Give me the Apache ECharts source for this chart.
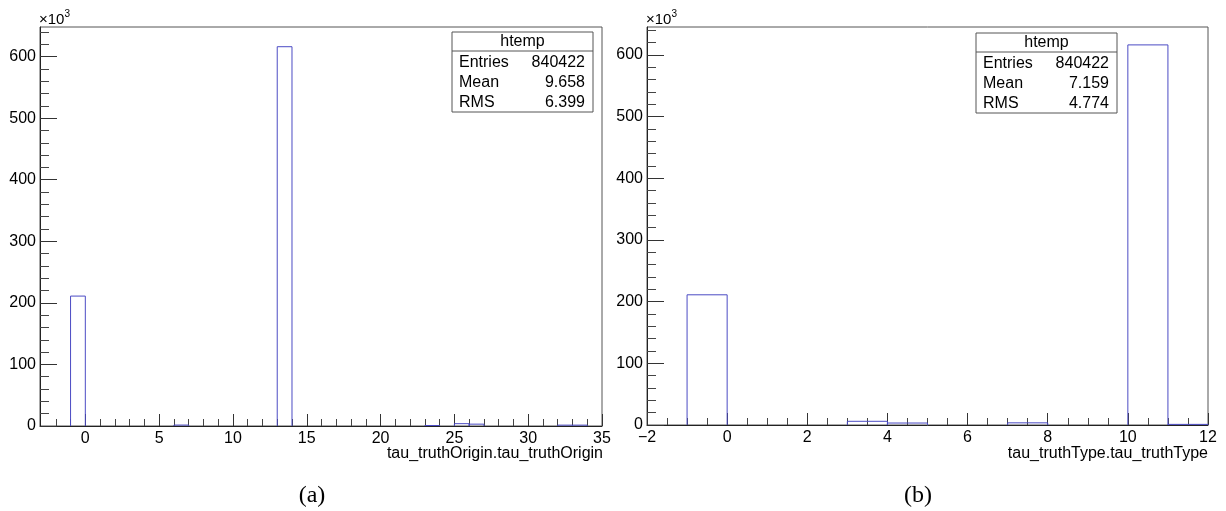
<!DOCTYPE html>
<html>
<head>
<meta charset="utf-8">
<script src="https://cdn.jsdelivr.net/npm/echarts@6/dist/echarts.min.js"></script>
<style>
  html, body { margin: 0; padding: 0; background: #fff; }
  #chart { width: 1226px; height: 511px; }
</style>
</head>
<body>
<div id="chart"></div>
<script>
// ---- histogram (a): tau_truthOrigin, bin width 1, counts in thousands ----
const originBinLow = [-1, 6, 13, 23, 25, 26, 32, 33];
const originCounts = [211, 1.5, 616, 0.8, 3.8, 3.0, 1.4, 1.4];
const originXTicks = [0, 5, 10, 15, 20, 25, 30, 35];

// ---- histogram (b): tau_truthType, bin width 1, counts in thousands ----
const typeBinLow = [-1, 3, 4, 7, 10, 11];
const typeCounts = [211, 6.0, 3.2, 3.5, 616, 1.0];
const typeXTicks = [-2, 0, 2, 4, 6, 8, 10, 12];

const yTicks = [0, 100, 200, 300, 400, 500, 600];

// statistics boxes
const statsA = { title: 'htemp', entries: '840422', mean: '9.658', rms: '6.399' };
const statsB = { title: 'htemp', entries: '840422', mean: '7.159', rms: '4.774' };

const FONT = '"Liberation Sans", Arial, sans-serif';
const SERIF = '"Liberation Serif", "Times New Roman", serif';
const LINE = '#4b4bc4';

function range(a, b, step) {
  const out = [];
  for (let v = a; v <= b + 1e-9; v += step) out.push(Math.round(v * 100) / 100);
  return out;
}
function minorOf(all, major) {
  return all.filter(v => !major.some(m => Math.abs(m - v) < 1e-9));
}
const signed = v => String(v).replace('-', '\u2212');

const chart = echarts.init(document.getElementById('chart'), null, { renderer: 'canvas' });

const grids = [
  { left: 40, right: 624, top: 27, bottom: 85 },
  { left: 647, right: 18, top: 27, bottom: 86 }
];

function xMajor(gridIndex, min, max, ticks) {
  return {
    type: 'value', gridIndex, min, max, position: 'bottom',
    axisLine: { show: true, onZero: false, lineStyle: { color: '#222', width: 1 } },
    axisTick: { show: true, inside: true, length: 12, customValues: ticks, lineStyle: { color: '#333' } },
    axisLabel: { show: true, customValues: ticks, formatter: signed, color: '#000', fontFamily: FONT, fontSize: 16, margin: 5 },
    splitLine: { show: false }
  };
}
function xMinor(gridIndex, min, max, ticks) {
  return {
    type: 'value', gridIndex, min, max, position: 'bottom',
    axisLine: { show: false, onZero: false },
    axisTick: { show: true, inside: true, length: 7, customValues: ticks, lineStyle: { color: '#444' } },
    axisLabel: { show: false },
    splitLine: { show: false }
  };
}
function yMajor(gridIndex, max) {
  return {
    type: 'value', gridIndex, min: 0, max, position: 'left',
    axisLine: { show: true, onZero: false, lineStyle: { color: '#222', width: 1 } },
    axisTick: { show: true, inside: true, length: 17, customValues: yTicks, lineStyle: { color: '#333' } },
    axisLabel: { show: true, customValues: yTicks, color: '#000', fontFamily: FONT, fontSize: 16, margin: 4 },
    splitLine: { show: false }
  };
}
function yMinor(gridIndex, max) {
  return {
    type: 'value', gridIndex, min: 0, max, position: 'left',
    axisLine: { show: false, onZero: false },
    axisTick: { show: true, inside: true, length: 9, customValues: minorOf(range(0, 640, 20), yTicks), lineStyle: { color: '#444' } },
    axisLabel: { show: false },
    splitLine: { show: false }
  };
}

function histSeries(xIdx, yIdx, lows, counts) {
  return {
    type: 'custom',
    xAxisIndex: xIdx, yAxisIndex: yIdx,
    data: lows.map((lo, i) => [lo, lo + 1, counts[i]]),
    renderItem: function (params, api) {
      const p0 = api.coord([api.value(0), 0]);
      const p1 = api.coord([api.value(1), api.value(2)]);
      return {
        type: 'polyline',
        shape: { points: [[p0[0], p0[1]], [p0[0], p1[1]], [p1[0], p1[1]], [p1[0], p0[1]]] },
        style: { stroke: LINE, lineWidth: 1, fill: null }
      };
    },
    silent: true,
    z: 3
  };
}

function statsBox(x, y, w, s) {
  const rowH = 20;
  const style = { fontFamily: FONT, fontSize: 16, fill: '#000' };
  return [
    { type: 'rect', shape: { x: x, y: y, width: w, height: 80 }, style: { fill: '#fff', stroke: '#555', lineWidth: 1 }, z: 10 },
    { type: 'line', shape: { x1: x, y1: y + 19, x2: x + w, y2: y + 19 }, style: { stroke: '#555', lineWidth: 1 }, z: 11 },
    { type: 'text', x: x + w / 2, y: y + 9.5, style: Object.assign({ text: s.title, align: 'center', verticalAlign: 'middle' }, style), z: 11 },
    { type: 'text', x: x + 7, y: y + 30.5, style: Object.assign({ text: 'Entries', align: 'left', verticalAlign: 'middle' }, style), z: 11 },
    { type: 'text', x: x + w - 8, y: y + 30.5, style: Object.assign({ text: s.entries, align: 'right', verticalAlign: 'middle' }, style), z: 11 },
    { type: 'text', x: x + 7, y: y + 30.5 + rowH, style: Object.assign({ text: 'Mean', align: 'left', verticalAlign: 'middle' }, style), z: 11 },
    { type: 'text', x: x + w - 8, y: y + 30.5 + rowH, style: Object.assign({ text: s.mean, align: 'right', verticalAlign: 'middle' }, style), z: 11 },
    { type: 'text', x: x + 7, y: y + 30.5 + 2 * rowH, style: Object.assign({ text: 'RMS', align: 'left', verticalAlign: 'middle' }, style), z: 11 },
    { type: 'text', x: x + w - 8, y: y + 30.5 + 2 * rowH, style: Object.assign({ text: s.rms, align: 'right', verticalAlign: 'middle' }, style), z: 11 }
  ];
}

function expLabel(x, y) {
  return {
    type: 'text', x: x, y: y, z: 11,
    style: {
      text: '{a|×10}{b|3}',
      rich: {
        a: { fontFamily: FONT, fontSize: 15, fill: '#000', verticalAlign: 'bottom' },
        b: { fontFamily: FONT, fontSize: 10, fill: '#000', verticalAlign: 'top', padding: [0, 0, 8, 0] }
      }
    }
  };
}

const option = {
  animation: false,
  backgroundColor: '#fff',
  grid: grids.map(g => Object.assign({ show: true, borderColor: '#555', borderWidth: 1, backgroundColor: 'transparent', containLabel: false }, g)),
  xAxis: [
    xMajor(0, -3.07, 35, originXTicks),
    xMinor(0, -3.07, 35, minorOf(range(-2, 34, 1), originXTicks)),
    xMajor(1, -2, 12, typeXTicks),
    xMinor(1, -2, 12, minorOf(range(-1.5, 11.5, 0.5), typeXTicks))
  ],
  yAxis: [
    yMajor(0, 648),
    yMinor(0, 648),
    yMajor(1, 645),
    yMinor(1, 645)
  ],
  series: [
    histSeries(0, 0, originBinLow, originCounts),
    histSeries(2, 2, typeBinLow, typeCounts)
  ],
  graphic: [
    expLabel(39, 9),
    expLabel(646, 9),
    ...statsBox(452, 32, 141, statsA),
    ...statsBox(976, 33, 141, statsB),
    { type: 'text', x: 603, y: 446, z: 11, style: { text: 'tau_truthOrigin.tau_truthOrigin', align: 'right', fontFamily: FONT, fontSize: 16, fill: '#000' } },
    { type: 'text', x: 1208, y: 446, z: 11, style: { text: 'tau_truthType.tau_truthType', align: 'right', fontFamily: FONT, fontSize: 16, fill: '#000' } },
    { type: 'text', x: 312, y: 496, z: 11, style: { text: '(a)', align: 'center', verticalAlign: 'middle', fontFamily: SERIF, fontSize: 24, fill: '#000' } },
    { type: 'text', x: 918, y: 496, z: 11, style: { text: '(b)', align: 'center', verticalAlign: 'middle', fontFamily: SERIF, fontSize: 24, fill: '#000' } }
  ]
};

chart.setOption(option);
</script>
</body>
</html>
